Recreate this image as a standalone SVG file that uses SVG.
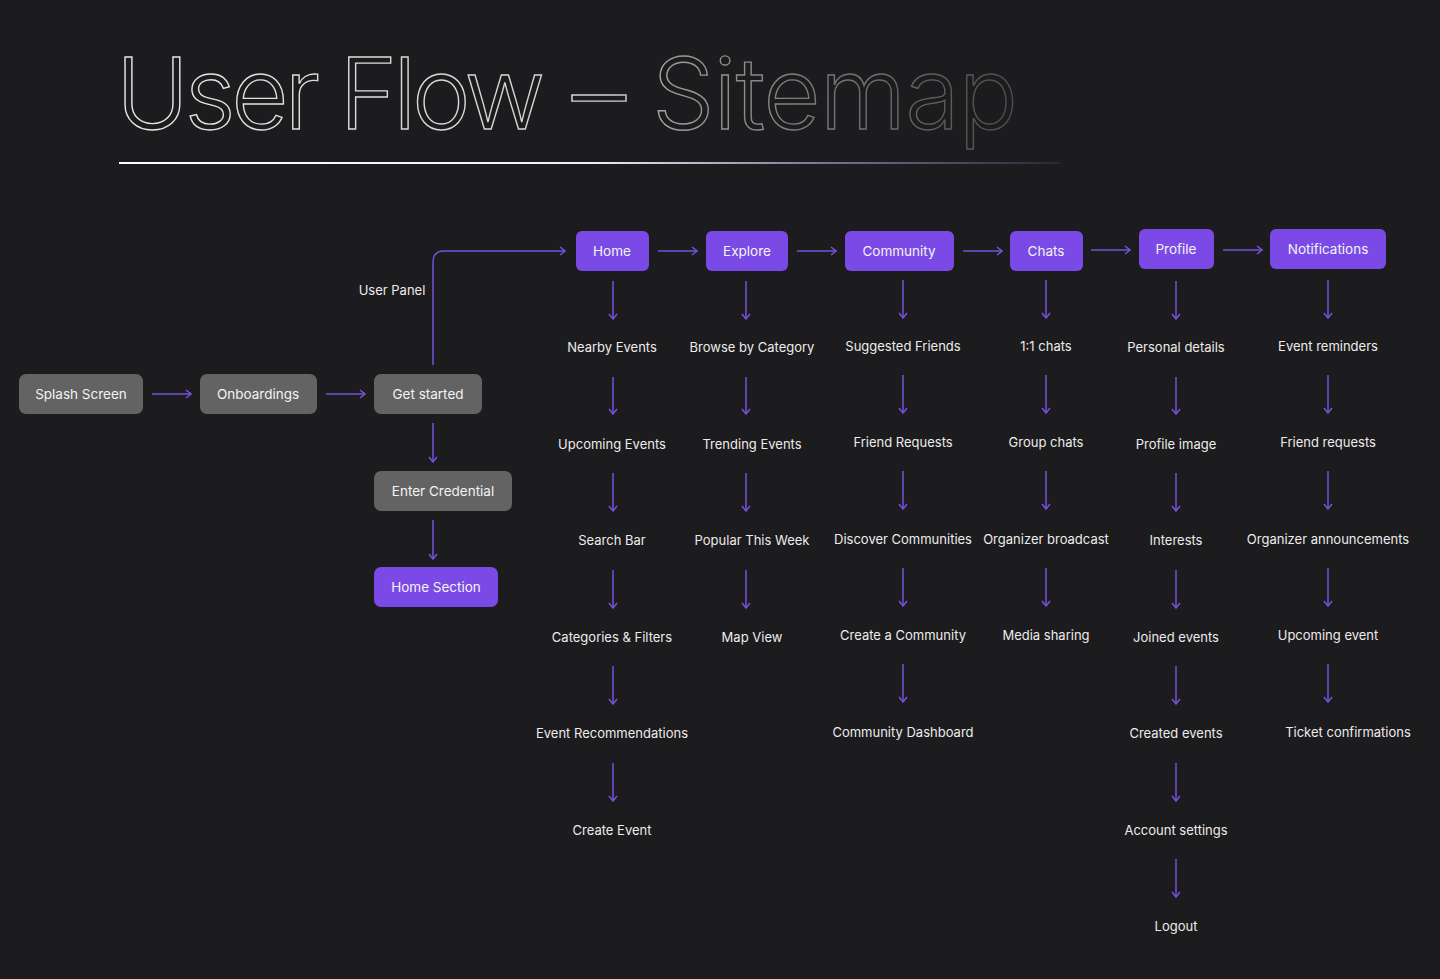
<svg xmlns="http://www.w3.org/2000/svg" width="1440" height="979" viewBox="0 0 1440 979">
<defs>
<linearGradient id="tg" gradientUnits="userSpaceOnUse" x1="120" y1="0" x2="1015" y2="0">
<stop offset="0" stop-color="#e6e6e6"/><stop offset="0.55" stop-color="#cfcfcf"/><stop offset="0.62" stop-color="#9a9a9a"/><stop offset="1" stop-color="#4a4a4a"/>
</linearGradient>
<linearGradient id="lg" gradientUnits="userSpaceOnUse" x1="119" y1="0" x2="1060" y2="0">
<stop offset="0" stop-color="#ffffff"/><stop offset="0.5" stop-color="#f2f2f2"/><stop offset="0.75" stop-color="#77739a"/><stop offset="1" stop-color="#2a2833"/>
</linearGradient>
<marker id="ah" viewBox="0 0 10 10" refX="9" refY="5" markerWidth="10" markerHeight="10" markerUnits="userSpaceOnUse" orient="auto">
<path d="M4,1 L9,5 L4,9" fill="none" stroke="#7552dc" stroke-width="1.5"/>
</marker>
<style>
.bg{fill:#1c1b1d}
.gray{fill:#636363}
.pur{fill:#7b4ae6}
.bt{font-family:Inter,"Liberation Sans",sans-serif;font-size:13.5px;fill:#f3f3f3;text-anchor:middle}
.t{font-family:Inter,"Liberation Sans",sans-serif;font-size:13px;fill:#ececec;text-anchor:middle}
.c{fill:none;stroke:#7552dc;stroke-width:1.5;marker-end:url(#ah)}
.ti{font-family:Inter,"Liberation Sans",sans-serif;font-weight:300;font-size:99px;fill:none;stroke:url(#tg);stroke-width:1.4}
</style>
</defs>
<rect class="bg" x="0" y="0" width="1440" height="979"/>
<g id="title">
<text class="ti" x="116" y="129" letter-spacing="-4.3">User Flow</text>
<text class="ti" x="572" y="129" textLength="54" lengthAdjust="spacingAndGlyphs">–</text>
<text class="ti" x="652" y="129" letter-spacing="-1">Sitemap</text>
<rect x="119" y="162" width="941" height="2" fill="url(#lg)"/>
</g>
<g id="n-splash"><rect class="gray" x="19" y="374" width="124" height="40" rx="7"/><text class="bt" x="81" y="399">Splash Screen</text></g>
<g id="n-onb"><rect class="gray" x="200" y="374" width="117" height="40" rx="7"/><text class="bt" x="258" y="399">Onboardings</text></g>
<g id="n-get"><rect class="gray" x="374" y="374" width="108" height="40" rx="7"/><text class="bt" x="428" y="399">Get started</text></g>
<g id="n-cred"><rect class="gray" x="374" y="471" width="138" height="40" rx="7"/><text class="bt" x="443" y="496">Enter Credential</text></g>
<g id="n-homesec"><rect class="pur" x="374" y="567" width="124" height="40" rx="7"/><text class="bt" x="436" y="592">Home Section</text></g>
<g id="n-userpanel"><text class="t" x="392" y="295">User Panel</text></g>
<g id="n-home"><rect class="pur" x="576" y="231" width="73" height="40" rx="6"/><text class="bt" x="612" y="256">Home</text></g>
<g id="n-explore"><rect class="pur" x="706" y="231" width="82" height="40" rx="6"/><text class="bt" x="747" y="256">Explore</text></g>
<g id="n-community"><rect class="pur" x="845" y="231" width="109" height="40" rx="6"/><text class="bt" x="899" y="256">Community</text></g>
<g id="n-chats"><rect class="pur" x="1010" y="231" width="73" height="40" rx="6"/><text class="bt" x="1046" y="256">Chats</text></g>
<g id="n-profile"><rect class="pur" x="1139" y="229" width="75" height="40" rx="6"/><text class="bt" x="1176" y="254">Profile</text></g>
<g id="n-notif"><rect class="pur" x="1270" y="229" width="116" height="40" rx="6"/><text class="bt" x="1328" y="254">Notifications</text></g>
<g id="home-items">
<text class="t" x="612" y="352">Nearby Events</text>
<text class="t" x="612" y="449">Upcoming Events</text>
<text class="t" x="612" y="545">Search Bar</text>
<text class="t" x="612" y="642">Categories &amp; Filters</text>
<text class="t" x="612" y="738">Event Recommendations</text>
<text class="t" x="612" y="835">Create Event</text>
</g>
<g id="explore-items">
<text class="t" x="752" y="352">Browse by Category</text>
<text class="t" x="752" y="449">Trending Events</text>
<text class="t" x="752" y="545">Popular This Week</text>
<text class="t" x="752" y="642">Map View</text>
</g>
<g id="community-items">
<text class="t" x="903" y="351">Suggested Friends</text>
<text class="t" x="903" y="447">Friend Requests</text>
<text class="t" x="903" y="544">Discover Communities</text>
<text class="t" x="903" y="640">Create a Community</text>
<text class="t" x="903" y="737">Community Dashboard</text>
</g>
<g id="chats-items">
<text class="t" x="1046" y="351">1:1 chats</text>
<text class="t" x="1046" y="447">Group chats</text>
<text class="t" x="1046" y="544">Organizer broadcast</text>
<text class="t" x="1046" y="640">Media sharing</text>
</g>
<g id="profile-items">
<text class="t" x="1176" y="352">Personal details</text>
<text class="t" x="1176" y="449">Profile image</text>
<text class="t" x="1176" y="545">Interests</text>
<text class="t" x="1176" y="642">Joined events</text>
<text class="t" x="1176" y="738">Created events</text>
<text class="t" x="1176" y="835">Account settings</text>
<text class="t" x="1176" y="931">Logout</text>
</g>
<g id="notif-items">
<text class="t" x="1328" y="351">Event reminders</text>
<text class="t" x="1328" y="447">Friend requests</text>
<text class="t" x="1328" y="544">Organizer announcements</text>
<text class="t" x="1328" y="640">Upcoming event</text>
<text class="t" x="1348" y="737">Ticket confirmations</text>
</g>
<g id="connectors">
<path class="c" d="M152,394 H191"/>
<path class="c" d="M326,394 H365"/>
<path class="c" d="M433,423 V462"/>
<path class="c" d="M433,520 V559"/>
<path class="c" d="M433,365 V262 Q433,251 444,251 H565"/>
<path class="c" d="M658,251 H697"/>
<path class="c" d="M797,251 H836"/>
<path class="c" d="M963,251 H1002"/>
<path class="c" d="M1091,250 H1130"/>
<path class="c" d="M1223,250 H1262"/>
<path class="c" d="M613,281 V319"/><path class="c" d="M613,377 V414"/><path class="c" d="M613,473 V511"/><path class="c" d="M613,570 V608"/><path class="c" d="M613,666 V704"/><path class="c" d="M613,763 V801"/>
<path class="c" d="M746,281 V319"/><path class="c" d="M746,377 V414"/><path class="c" d="M746,473 V511"/><path class="c" d="M746,570 V608"/>
<path class="c" d="M903,280 V318"/><path class="c" d="M903,375 V413"/><path class="c" d="M903,471 V509"/><path class="c" d="M903,568 V606"/><path class="c" d="M903,664 V702"/>
<path class="c" d="M1046,280 V318"/><path class="c" d="M1046,375 V413"/><path class="c" d="M1046,471 V509"/><path class="c" d="M1046,568 V606"/>
<path class="c" d="M1176,281 V319"/><path class="c" d="M1176,377 V414"/><path class="c" d="M1176,473 V511"/><path class="c" d="M1176,570 V608"/><path class="c" d="M1176,666 V704"/><path class="c" d="M1176,763 V801"/><path class="c" d="M1176,859 V897"/>
<path class="c" d="M1328,280 V318"/><path class="c" d="M1328,375 V413"/><path class="c" d="M1328,471 V509"/><path class="c" d="M1328,568 V606"/><path class="c" d="M1328,664 V702"/>
</g>
</svg>
